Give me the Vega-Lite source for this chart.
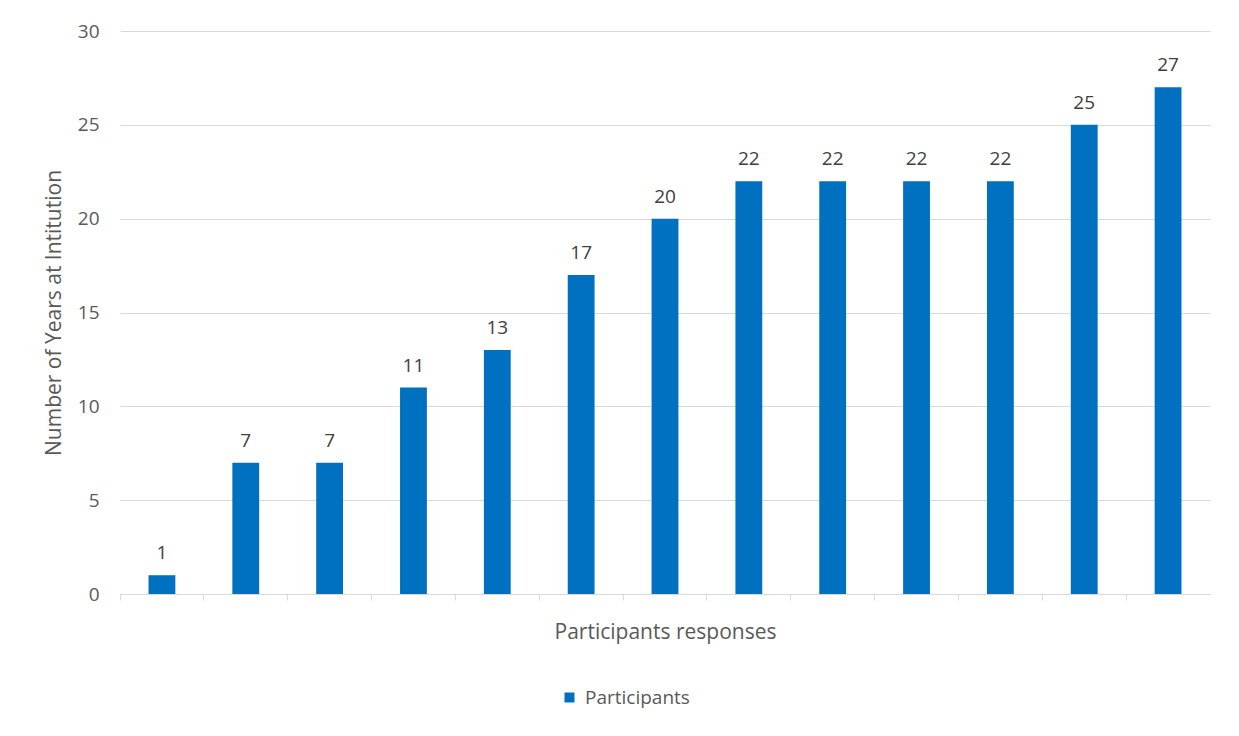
{
  "$schema": "https://vega.github.io/schema/vega-lite/v6.json",
  "width": 1090,
  "height": 563,
  "autosize": {"type": "none"},
  "padding": {"left": 120, "top": 31, "right": 29, "bottom": 142},
  "background": "white",
  "data": {
    "values": [
      {"response": 1, "years": 1, "series": "Participants"},
      {"response": 2, "years": 7, "series": "Participants"},
      {"response": 3, "years": 7, "series": "Participants"},
      {"response": 4, "years": 11, "series": "Participants"},
      {"response": 5, "years": 13, "series": "Participants"},
      {"response": 6, "years": 17, "series": "Participants"},
      {"response": 7, "years": 20, "series": "Participants"},
      {"response": 8, "years": 22, "series": "Participants"},
      {"response": 9, "years": 22, "series": "Participants"},
      {"response": 10, "years": 22, "series": "Participants"},
      {"response": 11, "years": 22, "series": "Participants"},
      {"response": 12, "years": 25, "series": "Participants"},
      {"response": 13, "years": 27, "series": "Participants"}
    ]
  },
  "encoding": {
    "x": {
      "field": "response",
      "type": "ordinal",
      "scale": {"paddingInner": 0.68, "paddingOuter": 0.34},
      "axis": {
        "title": "Participants responses",
        "labels": false,
        "bandPosition": -1.0625,
        "tickSize": 6,
        "tickColor": "#d9d9d9",
        "domainColor": "#d9d9d9",
        "titleFont": "Open Sans",
        "titleFontSize": 21,
        "titleFontWeight": "normal",
        "titleColor": "#595959",
        "titlePadding": 21
      }
    },
    "y": {
      "field": "years",
      "type": "quantitative",
      "scale": {"domain": [0, 30]},
      "axis": {
        "title": "Number of Years at Intitution",
        "values": [0, 5, 10, 15, 20, 25, 30],
        "domain": false,
        "ticks": false,
        "grid": true,
        "gridColor": "#d9d9d9",
        "labelPadding": 21,
        "labelFont": "Open Sans",
        "labelFontSize": 19,
        "labelColor": "#595959",
        "titleFont": "Open Sans",
        "titleFontSize": 21,
        "titleFontWeight": "normal",
        "titleColor": "#595959",
        "titlePadding": 13
      }
    }
  },
  "layer": [
    {
      "mark": {"type": "bar", "color": "#0070c0"},
      "encoding": {
        "color": {
          "field": "series",
          "type": "nominal",
          "scale": {"range": ["#0070c0"]},
          "legend": {
            "title": null,
            "orient": "none",
            "legendX": 440,
            "legendY": 657,
            "symbolType": "square",
            "symbolSize": 100,
            "symbolStrokeWidth": 0,
            "labelFont": "Open Sans",
            "labelFontSize": 19,
            "labelColor": "#595959",
            "labelOffset": 6
          }
        }
      }
    },
    {
      "mark": {
        "type": "text",
        "baseline": "bottom",
        "dy": -12,
        "font": "Open Sans",
        "fontSize": 19,
        "color": "#404040"
      },
      "encoding": {
        "text": {"field": "years", "type": "quantitative"}
      }
    }
  ],
  "config": {
    "view": {"stroke": null}
  }
}
